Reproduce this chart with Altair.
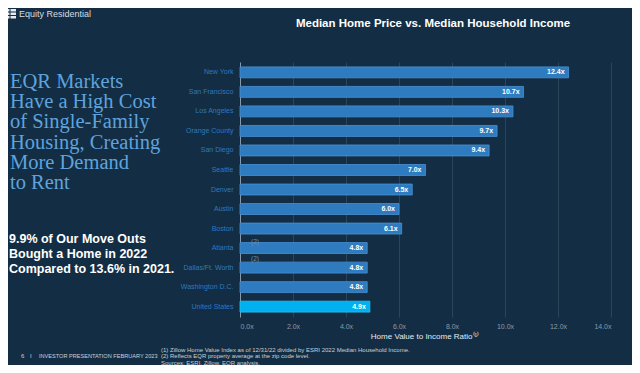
import altair as alt
import pandas as pd

markets = ["New York", "San Francisco", "Los Angeles", "Orange County", "San Diego",
           "Seattle", "Denver", "Austin", "Boston", "Atlanta", "Dallas/Ft. Worth",
           "Washington D.C.", "United States"]
ratios = [12.4, 10.7, 10.3, 9.7, 9.4, 7.0, 6.5, 6.0, 6.1, 4.8, 4.8, 4.8, 4.9]
groups = ["EQR"] * 12 + ["US"]
x_ticks = [0, 2, 4, 6, 8, 10, 12, 14]

df = pd.DataFrame({"market": markets, "ratio": ratios, "group": groups})
df["label"] = [f"{v:.1f}x" for v in ratios]

BG = "#132e44"
W, H = 371, 255

y_enc = alt.Y("market:N", sort=markets,
              scale=alt.Scale(paddingInner=0.44, paddingOuter=0.25),
              axis=alt.Axis(title=None, labelColor="#2f78bd", labelFontSize=7,
                            labelFont="Liberation Sans", labelPadding=7, ticks=False,
                            domainColor="#8a98a6", domainWidth=1, grid=False))
x_enc = alt.X("ratio:Q", scale=alt.Scale(domain=[0, 14], nice=False),
              axis=alt.Axis(title=None, values=x_ticks,
                            labelExpr="format(datum.value, '.1f') + 'x'",
                            labelColor="#8d9aa7", labelFontSize=7,
                            labelFont="Liberation Sans", labelPadding=5, ticks=False,
                            domain=False, grid=True, gridColor="#2c4559", gridWidth=1))

bars = alt.Chart(df).mark_bar(strokeWidth=0.8).encode(
    x=x_enc, y=y_enc,
    color=alt.Color("group:N", scale=alt.Scale(domain=["EQR", "US"], range=["#2e7bc0", "#00b0f0"]), legend=None),
    stroke=alt.Stroke("group:N", scale=alt.Scale(domain=["EQR", "US"], range=["#4a92d4", "#2bc4f7"]), legend=None),
)

labels = alt.Chart(df).mark_text(align="right", baseline="middle", dx=-4, color="white",
                                 fontWeight="bold", fontSize=7, font="Liberation Sans").encode(
    x="ratio:Q", y=alt.Y("market:N", sort=markets), text="label:N")

def txt(text, x, y, **kw):
    return alt.Chart(alt.Data(values=[{}])).mark_text(**kw).encode(
        x=alt.value(x), y=alt.value(y), text=alt.value(text))

FOOT = dict(align="left", baseline="middle", color="#c9d0d7", font="Liberation Sans")

notes = []
# (2) annotations
notes.append(txt("(2)", 15, 180, align="center", baseline="middle", fontSize=6.5,
                 color="#6d8fb0", font="Liberation Sans"))
notes.append(txt("(2)", 15, 197, align="center", baseline="middle", fontSize=6.5,
                 color="#6d8fb0", font="Liberation Sans"))
# chart title
notes.append(txt("Median Home Price vs. Median Household Income", 193, -38, align="center",
                 baseline="middle", fontSize=11.5, fontWeight="bold", color="white",
                 font="Liberation Sans"))
# x title
notes.append(txt("Home Value to Income Ratio⁽¹⁾", 185, 275, align="center", baseline="middle",
                 fontSize=8, color="#e4e9ee", font="Liberation Sans"))
# headline
notes.append(txt(["EQR Markets", "Have a High Cost", "of Single-Family", "Housing, Creating",
                  "More Demand", "to Rent"], -230, 26, align="left", baseline="alphabetic",
                 fontSize=20.5, lineHeight=20.2, color="#5fa3dd", font="Liberation Serif"))
# subtext
notes.append(txt(["9.9% of Our Move Outs", "Bought a Home in 2022", "Compared to 13.6% in 2021."],
                 -231, 181, align="left", baseline="alphabetic", fontSize=12.5, lineHeight=15,
                 fontWeight="bold", color="white", font="Liberation Sans"))
# logo text
notes.append(txt("Equity Residential", -221, -48.5, align="left", baseline="middle", fontSize=9,
                 color="#d5dce3", font="Liberation Sans"))
# footer
notes.append(txt("6", -219, 294, fontSize=6, **FOOT))
notes.append(txt("I", -210, 294, fontSize=6, **FOOT))
notes.append(txt("INVESTOR PRESENTATION FEBRUARY 2023", -201, 294, fontSize=5.6, **FOOT))
notes.append(txt(["(1) Zillow Home Value Index as of 12/31/22 divided by ESRI 2022 Median Household Income.",
                  "(2) Reflects EQR property average at the zip code level.",
                  "Sources: ESRI, Zillow, EQR analysis."], -79, 287.5, fontSize=6, lineHeight=6.5,
                 **FOOT))

# logo icon: three rows of white bars
icon = []
for yy in [-53, -49.5, -46]:
    icon.append(alt.Chart(alt.Data(values=[{}])).mark_rect(color="#e6ebf0").encode(
        x=alt.value(-235), x2=alt.value(-230.5), y=alt.value(yy), y2=alt.value(yy + 2.5)))
    icon.append(alt.Chart(alt.Data(values=[{}])).mark_rect(color="#e6ebf0").encode(
        x=alt.value(-229.5), x2=alt.value(-224), y=alt.value(yy), y2=alt.value(yy + 2.5)))

chart = alt.layer(bars, labels, *notes, *icon).properties(
    width=W, height=H,
    padding={"left": 232, "top": 54, "right": 21, "bottom": 48},
    autosize=alt.AutoSizeParams(type="none"),
    background=BG,
).configure_view(stroke=None)

chart.save("out.html", embed_options={"renderer": "svg", "actions": False})
